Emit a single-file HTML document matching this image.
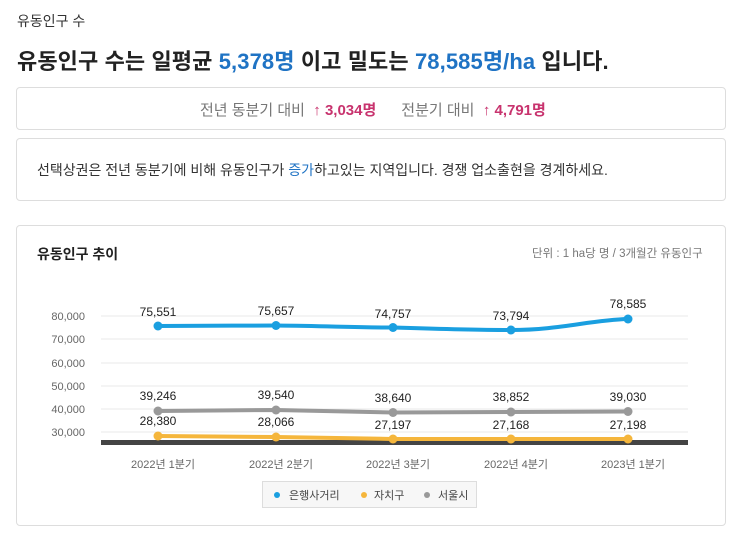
<!DOCTYPE html><html><head><meta charset="utf-8"><style>
body{margin:0;width:742px;height:541px;background:#fff;font-family:"Liberation Sans","Noto Sans CJK KR",sans-serif;color:#222;position:relative;overflow:hidden}
.a{position:absolute;white-space:nowrap}
.box{position:absolute;left:16px;width:708px;border:1px solid #ddd;border-radius:4px;background:#fff}
.b{color:#1f73c4}.p{color:#c8336e}
</style></head><body>
<div class="a" style="left:17px;top:11px;font-size:14px;color:#333">유동인구 수</div>
<div class="a" style="left:17px;top:44px;font-size:22px;font-weight:bold;color:#222;letter-spacing:0.1px">유동인구 수는 일평균 <span class="b">5,378명</span> 이고 밀도는 <span class="b">78,585명/ha</span> 입니다.</div>
<div class="box" style="top:87px;height:41px"></div>
<div class="a" style="left:200px;top:99px;font-size:15px;color:#777">전년 동분기 대비 &nbsp;<span class="p" style="font-weight:bold">↑ 3,034명</span>&nbsp;&nbsp;&nbsp;&nbsp;&nbsp; 전분기 대비 &nbsp;<span class="p" style="font-weight:bold">↑ 4,791명</span></div>
<div class="box" style="top:138px;height:61px"></div>
<div class="a" style="left:37px;top:160px;font-size:14px;color:#333">선택상권은 전년 동분기에 비해 유동인구가 <span class="b">증가</span>하고있는 지역입니다. 경쟁 업소출현을 경계하세요.</div>
<div class="box" style="top:225px;height:299px"></div>
<div class="a" style="left:37px;top:244px;font-size:14px;font-weight:bold;color:#222">유동인구 추이</div>
<div class="a" style="left:532px;top:245px;font-size:11.5px;color:#777">단위 : 1 ha당 명 / 3개월간 유동인구</div>
<svg class="a" style="left:0;top:0" width="742" height="541" font-family="Liberation Sans, Noto Sans CJK KR, sans-serif">
<g stroke="#e8e8e8" stroke-width="1">
<line x1="101" x2="688" y1="316" y2="316"/><line x1="101" x2="688" y1="339" y2="339"/><line x1="101" x2="688" y1="363" y2="363"/><line x1="101" x2="688" y1="386" y2="386"/><line x1="101" x2="688" y1="409" y2="409"/><line x1="101" x2="688" y1="432" y2="432"/></g>
<g font-size="11" fill="#666" text-anchor="end">
<text x="85" y="320">80,000</text><text x="85" y="343">70,000</text><text x="85" y="367">60,000</text><text x="85" y="390">50,000</text><text x="85" y="413">40,000</text><text x="85" y="436">30,000</text></g>
<rect x="101" y="440" width="587" height="5" fill="#444"/>
<path d="M158,436 L276,437 L393,439 L511,439 L628,439" fill="none" stroke="#f5b63c" stroke-width="4"/>
<path d="M158,411 L276,410 L393,412.5 L511,412 L628,411.5" fill="none" stroke="#999" stroke-width="4"/>
<path d="M158,326 C220,326 230,325.5 276,325.5 C330,326 350,327.5 393,327.5 C440,329 470,330 511,330 C560,330 590,320 628,319" fill="none" stroke="#1a9fe0" stroke-width="4"/>
<g fill="#f5b63c"><circle cx="158" cy="436" r="4.5"/><circle cx="276" cy="437" r="4.5"/><circle cx="393" cy="439" r="4.5"/><circle cx="511" cy="439" r="4.5"/><circle cx="628" cy="439" r="4.5"/></g>
<g fill="#999"><circle cx="158" cy="411" r="4.5"/><circle cx="276" cy="410" r="4.5"/><circle cx="393" cy="412.5" r="4.5"/><circle cx="511" cy="412" r="4.5"/><circle cx="628" cy="411.5" r="4.5"/></g>
<g fill="#1a9fe0"><circle cx="158" cy="326" r="4.5"/><circle cx="276" cy="325.5" r="4.5"/><circle cx="393" cy="327.5" r="4.5"/><circle cx="511" cy="330" r="4.5"/><circle cx="628" cy="319" r="4.5"/></g>
<g font-size="12" fill="#222" text-anchor="middle">
<text x="158" y="316">75,551</text><text x="276" y="315">75,657</text><text x="393" y="318">74,757</text><text x="511" y="320">73,794</text><text x="628" y="308">78,585</text>
<text x="158" y="400">39,246</text><text x="276" y="399">39,540</text><text x="393" y="402">38,640</text><text x="511" y="401">38,852</text><text x="628" y="401">39,030</text>
<text x="158" y="425">28,380</text><text x="276" y="426">28,066</text><text x="393" y="429">27,197</text><text x="511" y="429">27,168</text><text x="628" y="429">27,198</text></g>
<g font-size="11" fill="#666" text-anchor="middle">
<text x="163" y="468">2022년 1분기</text><text x="281" y="468">2022년 2분기</text><text x="398" y="468">2022년 3분기</text><text x="516" y="468">2022년 4분기</text><text x="633" y="468">2023년 1분기</text></g>
<rect x="262.5" y="481.5" width="214" height="26" fill="#f7f7f7" stroke="#ddd"/>
<circle cx="277" cy="495" r="3" fill="#1a9fe0"/><circle cx="364" cy="495" r="3" fill="#f5b63c"/><circle cx="427" cy="495" r="3" fill="#999"/>
<g font-size="11" fill="#444"><text x="289" y="499">은행사거리</text><text x="374" y="499">자치구</text><text x="438" y="499">서울시</text></g>
</svg>
</body></html>
